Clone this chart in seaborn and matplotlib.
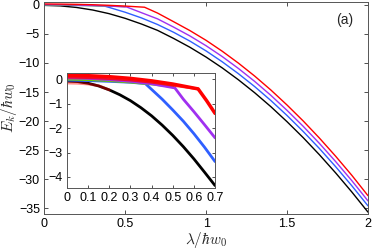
import matplotlib
matplotlib.use('Agg')
import matplotlib.pyplot as plt
import seaborn as sns

# main curves, lambda / hbar w0
lam = [0, 0.1, 0.2, 0.3, 0.4, 0.5, 0.6, 0.7, 0.8, 0.9, 1.0,
       1.1, 1.2, 1.3, 1.4, 1.5, 1.6, 1.7, 1.8, 1.9, 2.0]
black = [-0.08, -0.17, -0.44, -0.88, -1.50, -2.31, -3.28, -4.38, -5.78, -7.29, -8.98,
         -10.85, -12.90, -15.12, -17.52, -20.11, -22.86, -25.80, -28.92, -32.21, -35.68]

lam_blue = [0, 0.1, 0.2, 0.3, 0.37, 0.4, 0.5, 0.6, 0.7, 0.8, 0.9, 1.0,
            1.1, 1.2, 1.3, 1.4, 1.5, 1.6, 1.7, 1.8, 1.9, 2.0]
blue = [-0.04, -0.06, -0.09, -0.13, -0.18, -0.42, -1.26, -2.23, -3.37, -4.72, -6.23, -7.92,
        -9.80, -11.85, -14.06, -16.46, -19.04, -21.80, -24.73, -27.85, -31.14, -34.60]

lam_purple = [0, 0.1, 0.2, 0.3, 0.4, 0.51, 0.6, 0.7, 0.8, 0.9, 1.0,
              1.1, 1.2, 1.3, 1.4, 1.5, 1.6, 1.7, 1.8, 1.9, 2.0]
purple = [0.05, 0.03, -0.02, -0.09, -0.19, -0.36, -1.33, -2.40, -3.83, -5.34, -7.03,
          -8.90, -10.95, -13.17, -15.57, -18.16, -20.91, -23.85, -26.97, -30.26, -33.75]

lam_red = [0, 0.1, 0.2, 0.3, 0.4, 0.5, 0.62, 0.7, 0.8, 0.9, 1.0,
           1.1, 1.2, 1.3, 1.4, 1.5, 1.6, 1.7, 1.8, 1.9, 2.0]
red = [0.16, 0.14, 0.10, 0.03, -0.07, -0.20, -0.40, -1.40, -2.90, -4.42, -6.10,
       -7.98, -10.03, -12.25, -14.65, -17.24, -19.99, -22.93, -26.05, -29.34, -32.85]

lam_green = [0, 0.1, 0.2, 0.3, 0.4, 0.5]
green = [0.00, -0.02, -0.06, -0.12, -0.20, -0.30]

# inset curves, read at a finer step
lam_in = [0, 0.05, 0.1, 0.15, 0.2, 0.25, 0.3, 0.35, 0.4, 0.45, 0.5, 0.55, 0.6, 0.65, 0.7]
black_in = [-0.08, -0.10, -0.17, -0.28, -0.44, -0.64, -0.88, -1.17, -1.50, -1.88,
            -2.30, -2.76, -3.26, -3.80, -4.35]

lam_blue_in = [0, 0.1, 0.2, 0.3, 0.37, 0.4, 0.45, 0.5, 0.55, 0.6, 0.65, 0.7]
blue_in = [-0.04, -0.06, -0.09, -0.13, -0.18, -0.42, -0.82, -1.26, -1.72, -2.23, -2.78, -3.37]

lam_purple_in = [0, 0.1, 0.2, 0.3, 0.4, 0.51, 0.55, 0.6, 0.65, 0.7]
purple_in = [0.05, 0.03, -0.02, -0.09, -0.19, -0.36, -0.82, -1.33, -1.86, -2.40]

lam_red_in = [0, 0.1, 0.2, 0.3, 0.4, 0.5, 0.62, 0.66, 0.7]
red_in = [0.16, 0.14, 0.10, 0.03, -0.07, -0.20, -0.40, -0.88, -1.40]

lam_red2 = [0, 0.1, 0.2, 0.3, 0.4, 0.5, 0.62]
red2 = [0.08, 0.06, 0.02, -0.04, -0.13, -0.25, -0.40]

lam_pink = [0, 0.05, 0.1, 0.15, 0.2]
pink = [-0.16, -0.17, -0.20, -0.27, -0.44]

main_xticks = [0, 0.5, 1, 1.5, 2]
main_yticks = [0, -5, -10, -15, -20, -25, -30, -35]
inset_xticks = [0, 0.1, 0.2, 0.3, 0.4, 0.5, 0.6, 0.7]
inset_yticks = [0, -1, -2, -3, -4]

c_blue = '#2f5fff'
c_purple = '#a030f0'
c_green = '#6ccc00'
c_red = '#ff0000'

sns.set_style('ticks')
plt.rcParams['font.family'] = ['Liberation Sans', 'DejaVu Sans']
plt.rcParams['mathtext.fontset'] = 'cm'
plt.rcParams['axes.unicode_minus'] = True
plt.rcParams['lines.solid_joinstyle'] = 'round'

fig = plt.figure(figsize=(3.74, 2.5), dpi=100)
ax = fig.add_axes([0.118, 0.144, 0.866, 0.848])

sns.lineplot(x=lam, y=black, ax=ax, color='black', lw=1)
sns.lineplot(x=lam_blue, y=blue, ax=ax, color=c_blue, lw=1)
sns.lineplot(x=lam_green, y=green, ax=ax, color=c_green, lw=1)
sns.lineplot(x=lam_purple, y=purple, ax=ax, color=c_purple, lw=1)
sns.lineplot(x=lam_red, y=red, ax=ax, color=c_red, lw=1)

ax.set_xlim(0, 2)
ax.set_ylim(-36, 0.5)
ax.set_xticks(main_xticks)
ax.set_xticklabels(['0', '0.5', '1', '1.5', '2'])
ax.set_yticks(main_yticks)
ax.tick_params(direction='in', top=True, right=True, labelsize=9, length=3,
               width=0.6, colors='#333333', labelcolor='black', pad=3)
for s in ax.spines.values():
    s.set_visible(True)
    s.set_linewidth(0.7)
    s.set_color('#555555')
ax.set_xlabel(r'$\lambda/\hbar w_0$', fontsize=11, labelpad=0)
ax.set_ylabel(r'$E_k/\hbar w_0$', fontsize=11, labelpad=0)
ax.text(0.955, 0.915, '(a)', transform=ax.transAxes, fontsize=10, ha='right', va='center')

ins = fig.add_axes([0.179, 0.248, 0.396, 0.46])
sns.lineplot(x=lam_in, y=black_in, ax=ins, color='black', lw=2)
sns.lineplot(x=lam_pink, y=pink, ax=ins, color=c_red, lw=2, alpha=0.45)
sns.lineplot(x=lam_blue_in, y=blue_in, ax=ins, color=c_blue, lw=2)
sns.lineplot(x=lam_green, y=green, ax=ins, color=c_green, lw=2)
sns.lineplot(x=lam_purple_in, y=purple_in, ax=ins, color=c_purple, lw=2)
sns.lineplot(x=lam_red2, y=red2, ax=ins, color=c_red, lw=2, alpha=0.8)
sns.lineplot(x=lam_red_in, y=red_in, ax=ins, color=c_red, lw=2.5)

ins.set_xlim(0, 0.7)
ins.set_ylim(-4.45, 0.25)
ins.set_xticks(inset_xticks)
ins.set_xticklabels(['0', '0.1', '0.2', '0.3', '0.4', '0.5', '0.6', '0.7'])
ins.set_yticks(inset_yticks)
ins.tick_params(direction='in', top=True, right=True, labelsize=9, length=2.5,
                width=0.6, colors='#333333', labelcolor='black', pad=3)
for s in ins.spines.values():
    s.set_visible(True)
    s.set_linewidth(0.7)
    s.set_color('#555555')
ins.set_facecolor('white')

fig.savefig('out.png', dpi=100)
